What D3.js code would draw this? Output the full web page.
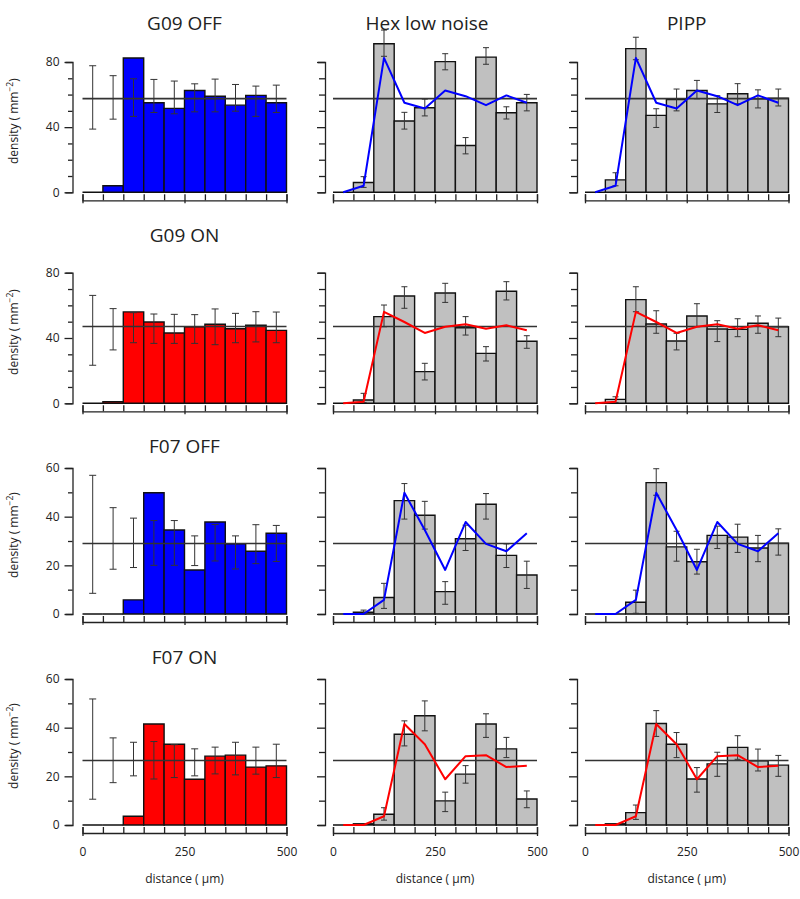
<!DOCTYPE html>
<html><head><meta charset="utf-8">
<script src="https://cdn.jsdelivr.net/npm/d3@7"></script>
<style>body{margin:0;background:#fff} text{font-family:"Open Sans",sans-serif;fill:#222}</style>
</head><body><svg id="c" width="800" height="899"></svg>
<script>
// ---------- data ----------
const binStarts = [0,50,100,150,200,250,300,350,400,450];
const binWidth = 50;
const rowTitles = ["G09 OFF","G09 ON","F07 OFF","F07 ON"];
const colTitles = [null,"Hex low noise","PIPP"];
const xTickLabels = [0,250,500];
const yMaxes = [80,80,60,60];
const yLabelTicks = [[0,40,80],[0,40,80],[0,20,40,60],[0,20,40,60]];
const rowColors = ["#0000ff","#ff0000","#0000ff","#ff0000"];

// G09 OFF
const g09OffObs    = [0,4,82.5,55,51.5,62.5,59,53.5,59.5,55];
const g09OffSimLo  = [38.8,44.9,46.6,49,48.2,49.4,49.4,49.8,46.6,49];
const g09OffSimHi  = [77.7,71.6,69.7,69.3,68.3,66.6,69.5,66.2,65.2,65.8];
const g09OffMean   = 57.5;
const g09OffHex    = [0,6,91.2,43.8,51.9,80.2,28.7,83,48.8,55];
const g09OffHexLo  = [null,3,83.5,38.8,46.9,75.2,23.6,78.6,45,50];
const g09OffHexHi  = [null,9.6,99.6,49.1,57.2,85.1,33.6,88.8,52.5,60.1];
const g09OffPipp   = [0,7.6,88.2,47.2,57,62.5,54.3,60.5,57.4,57.8];
const g09OffPippLo = [null,4,81.4,39.8,50,57.4,49,54.3,51.8,53];
const g09OffPippHi = [null,12,95.2,51.3,63.4,68.7,59.3,66.7,62.9,63.4];

// G09 ON
const g09OnObs    = [0,1,56,49.8,43.1,46.9,48.4,45.7,47.8,44.7];
const g09OnSimLo  = [23.3,32.7,37.1,36.7,36.7,36.7,35.9,37.1,37.6,37.1];
const g09OnSimHi  = [66.1,58,55.5,54.7,54.5,54.3,57.8,55.1,56.1,55.9];
const g09OnMean   = 47;
const g09OnHex    = [0,2,53.1,65.7,19.4,67.6,46.3,30.6,68.6,38];
const g09OnHexLo  = [null,0.5,46.9,58.2,14.3,61.8,41.8,25.9,63.3,33.7];
const g09OnHexHi  = [null,6.1,60.2,71.4,24.5,73.5,53.1,34.7,74.5,41.4];
const g09OnPipp   = [0,2.4,63.5,48.6,38.2,53.5,45.5,45.3,49,46.9];
const g09OnPippLo = [null,0.5,56.1,42.9,32.7,46.9,37.8,40.8,42.9,40.8];
const g09OnPippHi = [null,4,71.4,56.7,42.9,61,50.6,51.8,53.5,52.2];

// F07 OFF
const f07OffObs    = [0,0,5.8,49.8,34.5,18.1,37.8,28.8,25.8,33.2];
const f07OffSimLo  = [8.5,18.4,19.1,20,20,19.9,21.8,18.5,20.7,21.6];
const f07OffSimHi  = [57,43.7,39.4,38.4,38.4,32.1,36.8,32.1,36.7,36.4];
const f07OffMean   = 29;
const f07OffHex    = [0,0.7,6.8,46.6,40.6,9.2,30.9,45.1,24.1,16];
const f07OffHexLo  = [null,0,2.3,39,34.9,4,26.1,39,19.1,10.5];
const f07OffHexHi  = [null,1.6,12.6,53.6,46.3,13.3,36.5,49.5,28.8,21.7];
const f07OffPipp   = [0,0,4.8,54,27.6,21.5,32.3,31.6,27.1,29.1];
const f07OffPippLo = [null,null,0.3,48.8,21.7,16.4,26.9,25.3,21.5,24.2];
const f07OffPippHi = [null,null,9.8,59.7,34,26.6,36.1,36.9,32.3,35];

// F07 ON
const f07OnObs    = [0,0,3.6,41.5,33.2,18.8,28.3,28.7,23.8,24.3];
const f07OnSimLo  = [10.6,17.4,20.2,18.9,19.5,20.2,21,20.6,20.9,19.5];
const f07OnSimHi  = [51.8,35.8,34,34.3,33,31.3,32,34,32,33.2];
const f07OnMean   = 26.5;
const f07OnHex    = [0,0.5,4.4,37.3,44.9,9.9,20.9,41.5,31.3,10.7];
const f07OnHexLo  = [null,null,2,32.5,38.7,5.5,17.2,36,27.7,7.1];
const f07OnHexHi  = [null,null,7.1,42.8,51,13.5,24.4,45.7,36,14];
const f07OnPipp   = [0,0.5,5.1,41.7,33.2,18.9,25.1,31.9,26.4,24.6];
const f07OnPippLo = [null,null,2.3,36.4,27.7,13.5,20,27,22.2,20];
const f07OnPippHi = [null,null,8.2,47,38,23.6,29.9,36.7,31.2,28.6];

const rowsData = [
  {obs:g09OffObs, lo:g09OffSimLo, hi:g09OffSimHi, mean:g09OffMean,
   sims:[[g09OffHex,g09OffHexLo,g09OffHexHi],[g09OffPipp,g09OffPippLo,g09OffPippHi]]},
  {obs:g09OnObs, lo:g09OnSimLo, hi:g09OnSimHi, mean:g09OnMean,
   sims:[[g09OnHex,g09OnHexLo,g09OnHexHi],[g09OnPipp,g09OnPippLo,g09OnPippHi]]},
  {obs:f07OffObs, lo:f07OffSimLo, hi:f07OffSimHi, mean:f07OffMean,
   sims:[[f07OffHex,f07OffHexLo,f07OffHexHi],[f07OffPipp,f07OffPippLo,f07OffPippHi]]},
  {obs:f07OnObs, lo:f07OnSimLo, hi:f07OnSimHi, mean:f07OnMean,
   sims:[[f07OnHex,f07OnHexLo,f07OnHexHi],[f07OnPipp,f07OnPippLo,f07OnPippHi]]}
];

// ---------- layout ----------
const cols = [{ax:72.5,x0:82.5,x1:286.5},{ax:325,x0:333,x1:537},{ax:577,x0:585,x1:788.5}];
const rows = [{y0:192.3,yT:62},{y0:403.3,yT:272.7},{y0:614,yT:468},{y0:825,yT:679}];

const svg = d3.select("#c");

rows.forEach((R, ri) => {
  const d = rowsData[ri];
  const y = d3.scaleLinear().domain([0, yMaxes[ri]]).range([R.y0, R.yT]);
  cols.forEach((C, ci) => {
    const x = d3.scaleLinear().domain([0,500]).range([C.x0, C.x1]);
    const g = svg.append("g");

    // y axis
    const ya = g.append("g").attr("transform",`translate(${C.ax},0)`)
      .call(d3.axisLeft(y).tickValues(d3.range(0, yMaxes[ri]+1, 10)).tickSizeOuter(0).tickSize(7)
        .tickFormat(v => (ci===0 && yLabelTicks[ri].includes(v)) ? v : ""));
    ya.select(".domain").attr("stroke","#222").attr("stroke-width",1.3);
    ya.selectAll(".tick line").attr("stroke","#222").attr("stroke-width",1.3)
      .attr("x2", v => yLabelTicks[ri].includes(v) ? -8 : (ci===0 ? -4.5 : -6));
    ya.selectAll(".tick text").attr("x",-13).style("font-size","12px").style("font-family","'Open Sans',sans-serif").attr("fill","#333");

    // x axis
    const xa = g.append("g").attr("transform",`translate(0,${R.y0+8})`)
      .call(d3.axisBottom(x).tickValues(d3.range(0,501,50)).tickSizeOuter(0).tickSize(-6)
        .tickFormat(v => (ri===3 && xTickLabels.includes(v)) ? v : ""));
    xa.select(".domain").attr("stroke","#222").attr("stroke-width",1.3);
    xa.selectAll(".tick line").attr("stroke","#222").attr("stroke-width",1.3)
      .attr("y1", v => xTickLabels.includes(v) ? 3 : 0);
    xa.selectAll(".tick text").attr("y",14).style("font-size","12px").style("font-family","'Open Sans',sans-serif").attr("fill","#333");

    const vals = ci===0 ? d.obs : d.sims[ci-1][0];
    const lo = ci===0 ? d.lo : d.sims[ci-1][1];
    const hi = ci===0 ? d.hi : d.sims[ci-1][2];
    const fill = ci===0 ? rowColors[ri] : "#c0c0c0";

    // bars
    g.selectAll("path.bar").data(binStarts).join("path").attr("class","bar")
      .attr("d",(b,i)=>`M${x(b)},${y(0)}V${y(vals[i])}H${x(b+binWidth)}V${y(0)}Z`)
      .attr("fill",fill).attr("stroke","#111").attr("stroke-width",1.4);

    // mean line
    g.append("line").attr("x1",x(0)).attr("x2",x(500)).attr("y1",y(d.mean)).attr("y2",y(d.mean))
      .attr("stroke","#333").attr("stroke-width",1.6);

    // error bars
    const eb = binStarts.map((b,i)=>({c:b+binWidth/2,lo:lo[i],hi:hi[i]})).filter(e=>e.lo!=null && e.hi!=null);
    const cap = ci===0 ? 3.5 : 3;
    const eg = g.append("g").attr("stroke","#333").attr("stroke-width",1).attr("fill","none");
    eg.selectAll("path").data(eb).join("path")
      .attr("d",e=>`M${x(e.c)},${y(e.lo)}V${y(e.hi)}M${x(e.c)-cap},${y(e.lo)}H${x(e.c)+cap}M${x(e.c)-cap},${y(e.hi)}H${x(e.c)+cap}`);

    // observed line overlay on simulation panels
    if (ci>0) {
      const line = d3.line().x((b)=>x(b+binWidth/2)).y((b,i)=>y(d.obs[i]));
      g.append("path").datum(binStarts).attr("d",line).attr("fill","none")
        .attr("stroke",rowColors[ri]).attr("stroke-width",2).attr("stroke-linejoin","round");
    }

    // titles
    const title = ci===0 ? rowTitles[ri] : (ri===0 ? colTitles[ci] : null);
    if (title) {
      g.append("text").attr("x",(C.x0+C.x1)/2 - (ci===1?8:0)).attr("y",R.yT-32 + (ri>=2 ? 17 : 0) + (ri===1 ? 1 : 0))
        .attr("text-anchor","middle").style("font-size","19px").attr("fill","#111").text(title);
    }

    // y label
    if (ci===0) {
      const t = g.append("text").attr("transform",`translate(18,${(R.y0+R.yT)/2 - 6}) rotate(-90)`)
        .attr("text-anchor","middle").style("font-size","12px").attr("fill","#333");
      t.append("tspan").text("density ( mm");
      t.append("tspan").attr("dy",-5).style("font-size","8.5px").text("\u22122");
      t.append("tspan").attr("dy",5).text(")");
    }
    // x label
    if (ri===3) {
      g.append("text").attr("x",(C.x0+C.x1)/2).attr("y",883).attr("text-anchor","middle")
        .style("font-size","12px").attr("fill","#333").text("distance ( \u00b5m)");
    }
  });
});
</script></body></html>
